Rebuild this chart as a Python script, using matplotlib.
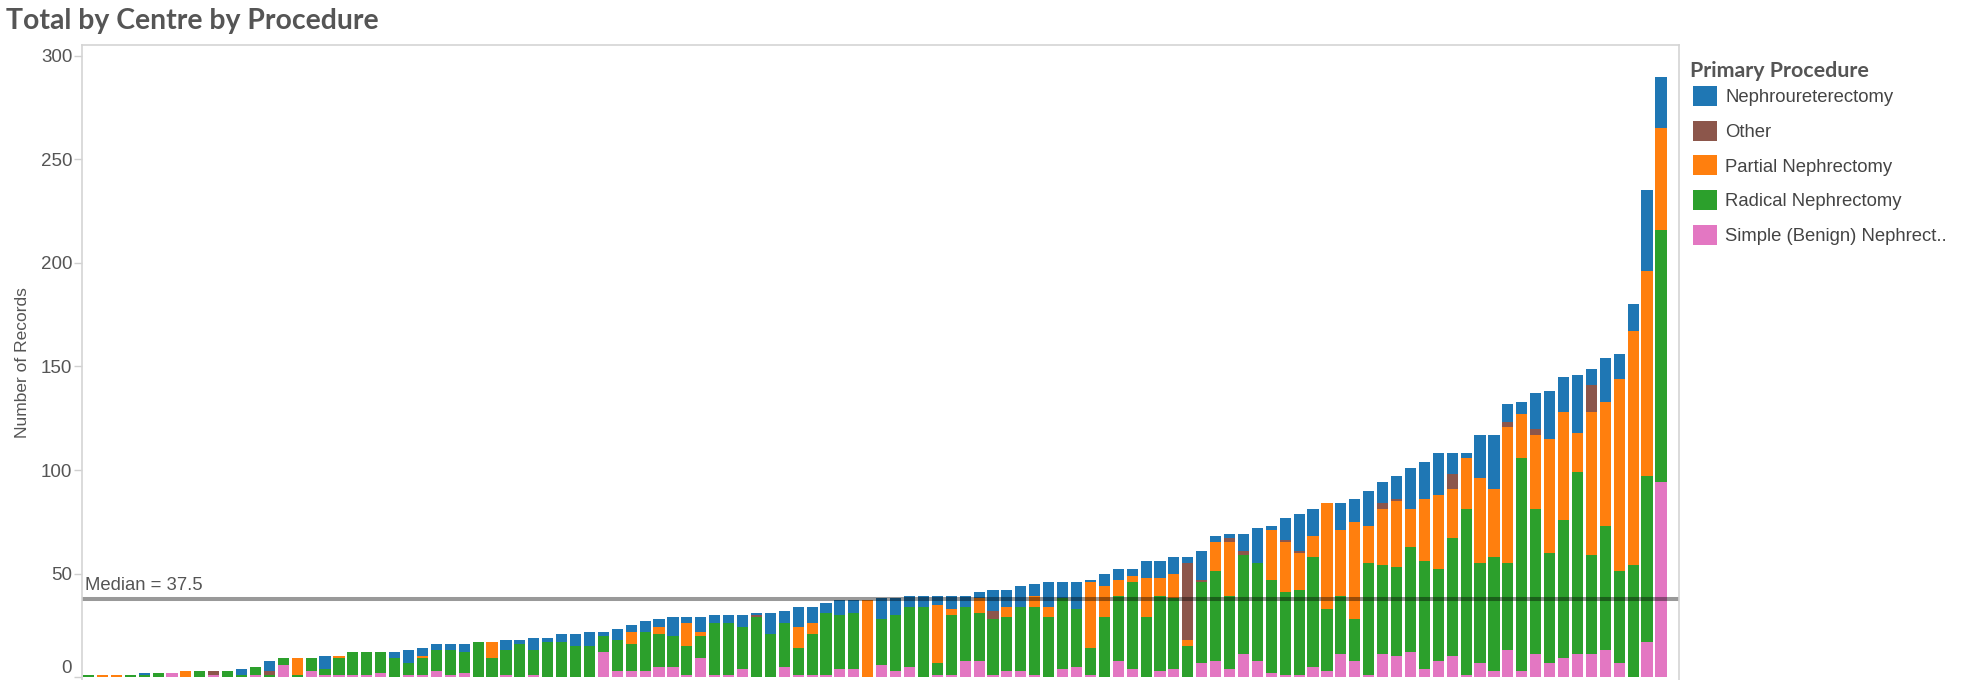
import numpy as np
import matplotlib.pyplot as plt
from matplotlib.patches import Patch

plt.rcParams['font.family'] = ['Liberation Sans', 'DejaVu Sans']

# records per centre, centres sorted by total
nephro = [0, 0, 0, 0, 1, 0, 0, 0, 0, 0, 0, 3, 0, 5, 0, 0, 0, 6, 0, 0,
          0, 0, 3, 6, 4, 3, 3, 4, 0, 0, 5, 2, 6, 2, 4, 6, 7, 2, 5, 3,
          5, 4, 9, 3, 7, 4, 4, 6, 1, 10, 6, 10, 8, 5, 7, 6, 0, 10, 8, 5,
          5, 4, 6, 5, 3, 10, 8, 10, 6, 12, 8, 13, 1, 6, 5, 3, 8, 8, 8, 3,
          14, 3, 2, 8, 17, 2, 11, 18, 13, 0, 13, 11, 17, 10, 11, 20, 18, 20, 10, 2,
          21, 26, 9, 6, 17, 23, 17, 28, 8, 21, 12, 13, 39, 25]
other = [0, 0, 0, 0, 0, 0, 0, 0, 0, 2, 0, 0, 0, 2, 0, 0, 0, 0, 0, 0,
         0, 0, 0, 0, 0, 0, 0, 0, 0, 0, 0, 0, 0, 0, 0, 0, 0, 0, 0, 0,
         0, 0, 0, 0, 0, 0, 0, 0, 1, 0, 0, 0, 0, 0, 0, 0, 0, 0, 0, 0,
         0, 0, 0, 0, 0, 4, 0, 0, 0, 0, 0, 0, 0, 0, 0, 0, 0, 0, 0, 37,
         1, 0, 2, 2, 0, 0, 1, 1, 0, 0, 0, 0, 0, 3, 1, 0, 0, 0, 7, 0,
         0, 0, 2, 0, 3, 0, 0, 0, 13, 0, 0, 0, 0, 0]
partial = [0, 1, 1, 0, 0, 0, 0, 3, 0, 0, 0, 0, 0, 0, 0, 8, 0, 0, 1, 0,
           0, 0, 0, 0, 1, 0, 0, 0, 0, 8, 0, 0, 0, 0, 0, 0, 0, 0, 0, 6,
           0, 3, 0, 11, 2, 0, 0, 0, 0, 0, 0, 10, 5, 0, 0, 0, 37, 0, 0, 0,
           0, 28, 3, 0, 7, 0, 5, 0, 5, 5, 0, 0, 32, 15, 8, 3, 19, 9, 12, 3,
           0, 14, 26, 0, 0, 24, 24, 18, 10, 51, 32, 47, 18, 27, 32, 18, 30, 36, 24, 25,
           41, 33, 66, 21, 36, 55, 52, 19, 69, 60, 93, 113, 99, 49]
radical = [1, 0, 0, 1, 1, 2, 0, 0, 3, 0, 3, 1, 4, 1, 3, 1, 6, 3, 8, 11,
           11, 10, 9, 6, 8, 10, 12, 10, 17, 9, 12, 16, 12, 17, 17, 15, 15, 8, 15, 13,
           19, 16, 15, 14, 11, 25, 25, 20, 29, 21, 21, 13, 20, 30, 26, 27, 0, 22, 27, 29,
           34, 6, 29, 26, 23, 27, 26, 31, 33, 29, 34, 28, 13, 29, 31, 42, 29, 36, 34, 15,
           39, 43, 35, 48, 47, 45, 40, 41, 53, 30, 28, 20, 54, 43, 43, 51, 52, 44, 57, 80,
           48, 55, 42, 103, 70, 53, 67, 88, 48, 60, 44, 54, 80, 122]
simple = [0, 0, 0, 0, 0, 0, 2, 0, 0, 1, 0, 0, 1, 0, 6, 0, 3, 1, 1, 1,
          1, 2, 0, 1, 1, 3, 1, 2, 0, 0, 1, 0, 1, 0, 0, 0, 0, 12, 3, 3,
          3, 5, 5, 1, 9, 1, 1, 4, 0, 0, 5, 1, 1, 1, 4, 4, 0, 6, 3, 5,
          0, 1, 1, 8, 8, 1, 3, 3, 1, 0, 4, 5, 1, 0, 8, 4, 0, 3, 4, 0,
          7, 8, 4, 11, 8, 2, 1, 1, 5, 3, 11, 8, 1, 11, 10, 12, 4, 8, 10, 1,
          7, 3, 13, 3, 11, 7, 9, 11, 11, 13, 7, 0, 17, 94]

procedures = ["Nephroureterectomy", "Other", "Partial Nephrectomy",
              "Radical Nephrectomy", "Simple (Benign) Nephrect.."]
colours = ["#1f77b4", "#8c564b", "#ff7f0e", "#2ca02c", "#e377c2"]

fig = plt.figure(figsize=(19.7, 6.8), dpi=100)
ax = fig.add_axes([0.0416, 0.0, 0.8107, 0.934])

x = np.arange(len(simple))
bottom = np.zeros(len(x))
# stack from the bottom: simple, radical, partial, other, nephro
series = [simple, radical, partial, other, nephro]
for vals, col in zip(series, colours[::-1]):
    ax.bar(x, vals, 0.8, bottom=bottom, color=col, linewidth=0)
    bottom += np.array(vals)

median = np.median(bottom)
ax.axhline(median, color='black', alpha=0.4, lw=2.9)
ax.text(-0.25, median + 2.6, "Median = %g" % median, fontsize=13.3,
        color='#555555', ha='left', va='bottom')

ax.set_xlim(-0.47, len(x) + 0.3)
ax.set_ylim(-1.4, 305.3)
ax.set_xticks([])
ax.set_yticks(range(0, 301, 50))
ax.tick_params(axis='y', length=6, width=1, color='#d0d0d0', pad=1,
               labelsize=13.5, labelcolor='#555555')
ax.get_yticklabels()[0].set_va('bottom')
ax.set_ylabel("Number of Records", fontsize=12.5, color='#555555', labelpad=8)
for s in ['left', 'top', 'right']:
    ax.spines[s].set_color('#d4d4d4')
    ax.spines[s].set_linewidth(1.2)
ax.spines['bottom'].set_visible(False)

fig.text(6 / 1970, 1 - 21 / 680, "Total by Centre by Procedure", fontsize=20.4,
         fontweight='bold', family=['Lato', 'DejaVu Sans'], color='#555555', va='center')

# legend title drawn on its own, entries below it
fig.text(1690 / 1970, 1 - 71 / 680, "Primary Procedure", fontsize=15.4, fontweight='bold',
         family=['Lato', 'DejaVu Sans'], color='#555555', va='center', ha='left')
handles = [Patch(facecolor=c, label=l) for c, l in zip(colours, procedures)]
fig.legend(handles=handles, loc='upper left', bbox_to_anchor=(1693 / 1970, 1 - 86 / 680),
           frameon=False, fontsize=13.3, handlelength=1.3, handleheight=1.3,
           labelspacing=0.78, handletextpad=0.45, borderaxespad=0, borderpad=0,
           labelcolor='#444444')

fig.savefig("out.png")
